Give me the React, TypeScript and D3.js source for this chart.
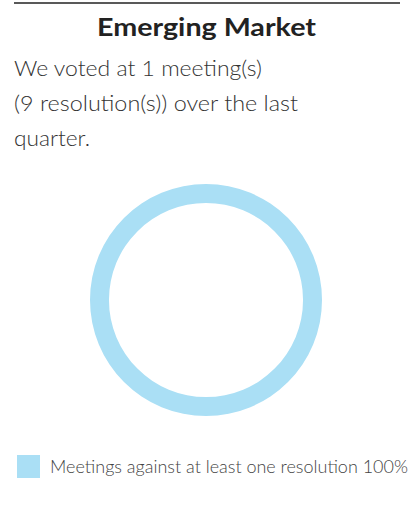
import React from "react";
import * as d3 from "d3";

const title = "Emerging Market";
const descLines = ["We voted at 1 meeting(s)", "(9 resolution(s)) over the last", "quarter."];
const descWidths = [248, 284, 76];
const categories = ["Meetings against at least one resolution"];
const values = [100];
const colors = ["#aadff5"];

export default function App() {
  const W = 411, H = 515;
  const cx = 206, cy = 300, outerR = 116, innerR = 97;
  const pie = d3.pie<number>().sort(null)(values);
  const arc = d3.arc<d3.PieArcDatum<number>>().innerRadius(innerR).outerRadius(outerR);
  const color = d3.scaleOrdinal<string, string>().domain(categories).range(colors);
  return (
    <svg width={W} height={H} style={{ position: "absolute", left: 0, top: 0 }}>
      <line x1={14} x2={400} y1={3} y2={3} stroke="#222" strokeWidth={1.5} />
      <text x={97} y={36} textLength={219} lengthAdjust="spacingAndGlyphs" fontFamily="Lato" fontWeight={700} fontSize={25} fill="#222">{title}</text>
      {descLines.map((t, i) => (
        <text key={i} x={14} y={76 + i * 35} textLength={descWidths[i]} lengthAdjust="spacingAndGlyphs" fontFamily="Lato" fontWeight={300} fontSize={21} fill="#333">{t}</text>
      ))}
      <g transform={`translate(${cx},${cy})`}>
        {pie.map((p, i) => (
          <path key={i} d={arc(p) || ""} fill={color(categories[i])} />
        ))}
      </g>
      {categories.map((c, i) => (
        <g key={c}>
          <rect x={17} y={455 + i * 30} width={23} height={23} fill={color(c)} />
          <text x={50} y={473 + i * 30} textLength={358} lengthAdjust="spacingAndGlyphs" fontFamily="Lato" fontWeight={300} fontSize={17} fill="#444">{`${c} ${values[i]}%`}</text>
        </g>
      ))}
    </svg>
  );
}
